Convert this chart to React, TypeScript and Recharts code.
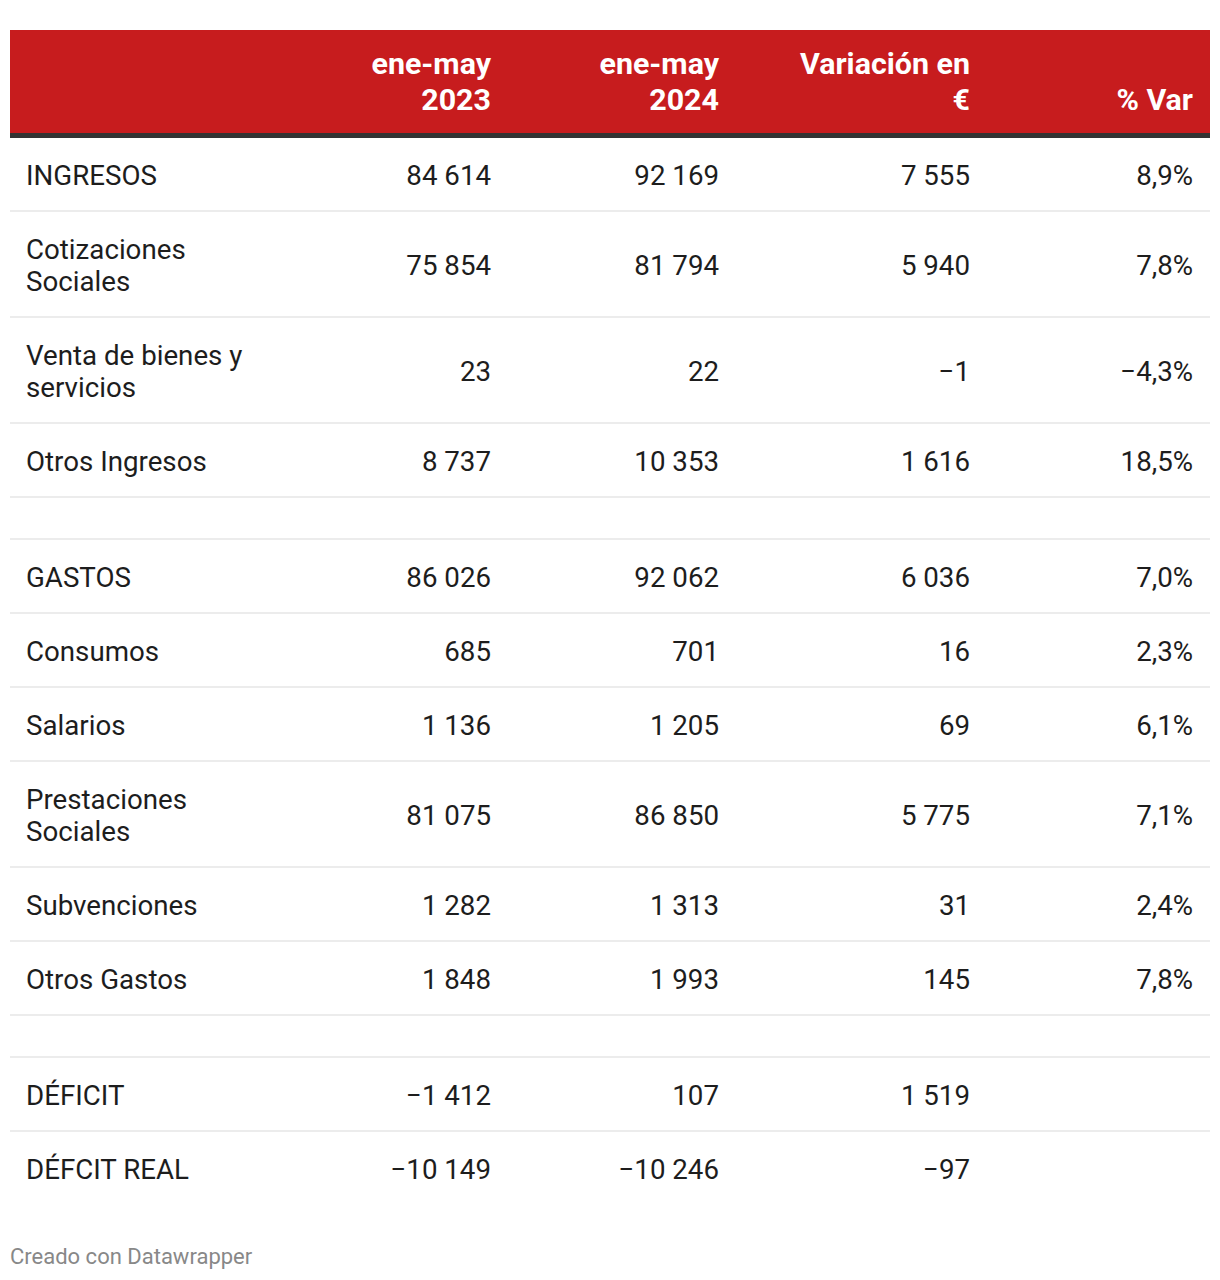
import { ScatterChart, Scatter, XAxis, YAxis, ReferenceArea, ReferenceLine } from "recharts";

// Table contents, row by row ("" = spacer row). Line breaks follow the picture.
const HEADERS = [["ene-may", "2023"], ["ene-may", "2024"], ["Variación en", "€"], ["% Var"]];
const LABELS = [
  "INGRESOS", "Cotizaciones\nSociales", "Venta de bienes y\nservicios", "Otros Ingresos", "",
  "GASTOS", "Consumos", "Salarios", "Prestaciones\nSociales", "Subvenciones", "Otros Gastos", "",
  "DÉFICIT", "DÉFCIT REAL",
];
const V2023 = [84614, 75854, 23, 8737, null, 86026, 685, 1136, 81075, 1282, 1848, null, -1412, -10149];
const V2024 = [92169, 81794, 22, 10353, null, 92062, 701, 1205, 86850, 1313, 1993, null, 107, -10246];
const VAR_EUR = [7555, 5940, -1, 1616, null, 6036, 16, 69, 5775, 31, 145, null, 1519, -97];
const VAR_PCT = [8.9, 7.8, -4.3, 18.5, null, 7.0, 2.3, 6.1, 7.1, 2.4, 7.8, null, null, null];

const W = 1220;
const H = 1280;
const TABLE_L = 10;
const TABLE_R = 1210;
const HEAD_TOP = 30;
const HEAD_BOTTOM = 133;
const BODY_TOP = 137;
const LABEL_X = 26;
const COL_RIGHT = [491, 719, 970, 1193];
const FONT = "Roboto, 'Noto Sans', sans-serif";

const fmtNum = (v: number) =>
  (v < 0 ? "\u2212" : "") + Math.abs(v).toString().replace(/\B(?=(\d{3})+(?!\d))/g, " ");
const fmtPct = (v: number) => (v < 0 ? "\u2212" : "") + Math.abs(v).toFixed(1).replace(".", ",") + "%";

// row heights: 42px padding + 32px per text line
const rowLines = LABELS.map((l) => (l === "" ? 0 : l.split("\n").length));
const rowTop: number[] = [];
let acc = BODY_TOP;
rowLines.forEach((n) => {
  rowTop.push(acc);
  acc += 42 + 32 * n;
});
const rowBottom = rowLines.map((n, i) => rowTop[i] + 42 + 32 * n);

type Cell = { x: number; y: number; lines: string[]; anchor: string };

const bodyCells: Cell[] = [];
LABELS.forEach((label, r) => {
  if (!label) return;
  const y = (rowTop[r] + rowBottom[r]) / 2 + 1;
  bodyCells.push({ x: LABEL_X, y, lines: label.split("\n"), anchor: "start" });
  const vals = [V2023[r], V2024[r], VAR_EUR[r]];
  vals.forEach((v, c) => {
    if (v != null) bodyCells.push({ x: COL_RIGHT[c], y, lines: [fmtNum(v)], anchor: "end" });
  });
  const p = VAR_PCT[r];
  if (p != null) bodyCells.push({ x: COL_RIGHT[3], y, lines: [fmtPct(p)], anchor: "end" });
});

const headCells: Cell[] = HEADERS.map((lines, c) => ({ x: COL_RIGHT[c], y: 99, lines, anchor: "end" }));

function BodyText(props: { cx?: number; cy?: number; payload?: Cell }) {
  const { cx = 0, cy = 0, payload } = props;
  if (!payload) return null;
  const lh = 32;
  const y0 = cy - ((payload.lines.length - 1) * lh) / 2;
  return (
    <text textAnchor={payload.anchor} dominantBaseline="central" style={{ fontFamily: FONT, fontSize: 27.7, fill: "#1d1d1d" }}>
      {payload.lines.map((t, i) => (
        <tspan key={i} x={cx} y={y0 + i * lh}>{t}</tspan>
      ))}
    </text>
  );
}

function HeadText(props: { cx?: number; cy?: number; payload?: Cell }) {
  const { cx = 0, cy = 0, payload } = props;
  if (!payload) return null;
  const lh = 36;
  const y0 = cy - (payload.lines.length - 1) * lh;
  return (
    <text textAnchor={payload.anchor} dominantBaseline="central" style={{ fontFamily: FONT, fontSize: 30.4, fontWeight: 700, fill: "#ffffff" }}>
      {payload.lines.map((t, i) => (
        <tspan key={i} x={cx} y={y0 + i * lh}>{t}</tspan>
      ))}
    </text>
  );
}

export default function App() {
  const seps = rowBottom.slice(0, -1);
  return (
    <div style={{ position: "absolute", left: 0, top: 0, width: W, height: H, background: "#fff" }}>
      <ScatterChart width={W} height={H} margin={{ top: 0, right: 0, bottom: 0, left: 0 }}>
        <XAxis type="number" dataKey="x" domain={[0, W]} hide allowDataOverflow />
        <YAxis type="number" dataKey="y" domain={[0, H]} reversed hide allowDataOverflow />
        <ReferenceArea x1={TABLE_L} x2={TABLE_R} y1={HEAD_TOP} y2={HEAD_BOTTOM} fill="#c71c1e" fillOpacity={1} stroke="none" />
        <ReferenceArea x1={TABLE_L} x2={TABLE_R} y1={HEAD_BOTTOM} y2={BODY_TOP + 1} fill="#333333" fillOpacity={1} stroke="none" />
        {seps.map((y, i) => (
          <ReferenceLine key={i} segment={[{ x: TABLE_L, y }, { x: TABLE_R, y }]} stroke="#ececec" strokeWidth={2} />
        ))}
        <Scatter data={headCells} shape={HeadText as never} isAnimationActive={false} />
        <Scatter data={bodyCells} shape={BodyText as never} isAnimationActive={false} />
      </ScatterChart>
      <div style={{ position: "absolute", left: 10, top: 1244, fontFamily: FONT, fontSize: 22, color: "#888888" }}>
        Creado con Datawrapper
      </div>
    </div>
  );
}
